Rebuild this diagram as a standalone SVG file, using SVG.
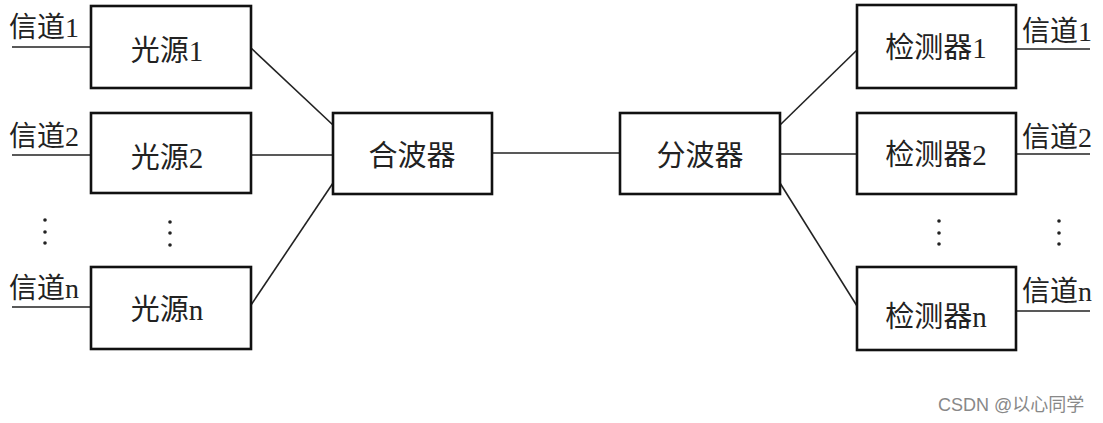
<svg xmlns="http://www.w3.org/2000/svg" width="1103" height="423" viewBox="0 0 1103 423">
<style>
.box{fill:#fff;stroke:#111;stroke-width:2.6}
.ln{stroke:#222;stroke-width:1.6;fill:none}
.t{font-family:"Liberation Serif","Noto Sans CJK SC",serif;font-size:28px;fill:#222}
.b{font-size:29px;text-anchor:middle}
.dot{fill:#222}
.wm{font-family:"Liberation Sans","Noto Sans CJK SC",sans-serif;font-size:18px;fill:#888}
</style>
<rect width="1103" height="423" fill="#fff"/>
<g id="connectors">
<line class="ln" x1="12" y1="47" x2="91" y2="47"/>
<line class="ln" x1="12" y1="155" x2="91" y2="155"/>
<line class="ln" x1="12" y1="307" x2="91" y2="307"/>
<line class="ln" x1="251" y1="48" x2="333" y2="125"/>
<line class="ln" x1="251" y1="155" x2="333" y2="155"/>
<line class="ln" x1="251" y1="305" x2="333" y2="183"/>
<line class="ln" x1="492" y1="153" x2="620" y2="153"/>
<line class="ln" x1="780" y1="125" x2="857" y2="50"/>
<line class="ln" x1="780" y1="154" x2="857" y2="154"/>
<line class="ln" x1="780" y1="183" x2="857" y2="306"/>
<line class="ln" x1="1016" y1="49" x2="1090" y2="49"/>
<line class="ln" x1="1016" y1="154" x2="1090" y2="154"/>
<line class="ln" x1="1016" y1="311" x2="1090" y2="311"/>
</g>
<g id="labels-left">
<text class="t" x="9" y="37">信道1</text>
<text class="t" x="9" y="146">信道2</text>
<text class="t" x="9" y="298">信道n</text>
</g>
<g id="src1"><rect class="box" x="91" y="6" width="160" height="82"/><text class="t b" x="167" y="61">光源1</text></g>
<g id="src2"><rect class="box" x="91" y="113" width="160" height="80"/><text class="t b" x="167" y="168">光源2</text></g>
<g id="srcn"><rect class="box" x="91" y="267" width="160" height="82"/><text class="t b" x="167" y="320">光源n</text></g>
<g id="dots-left">
<circle class="dot" cx="45" cy="220" r="1.8"/><circle class="dot" cx="45" cy="232" r="1.8"/><circle class="dot" cx="45" cy="243" r="1.8"/>
<circle class="dot" cx="170" cy="222" r="1.8"/><circle class="dot" cx="170" cy="233" r="1.8"/><circle class="dot" cx="170" cy="245" r="1.8"/>
</g>
<g id="mux"><rect class="box" x="333" y="113" width="159" height="81"/><text class="t b" x="412" y="166">合波器</text></g>
<g id="demux"><rect class="box" x="620" y="113" width="160" height="81"/><text class="t b" x="700" y="166">分波器</text></g>
<g id="det1"><rect class="box" x="857" y="5" width="159" height="83"/><text class="t b" x="936" y="58">检测器1</text></g>
<g id="det2"><rect class="box" x="857" y="113" width="159" height="81"/><text class="t b" x="936" y="165">检测器2</text></g>
<g id="detn"><rect class="box" x="857" y="267" width="159" height="83"/><text class="t b" x="936" y="327">检测器n</text></g>
<g id="dots-right">
<circle class="dot" cx="939" cy="221" r="1.8"/><circle class="dot" cx="939" cy="233" r="1.8"/><circle class="dot" cx="939" cy="244" r="1.8"/>
<circle class="dot" cx="1059" cy="221" r="1.8"/><circle class="dot" cx="1059" cy="233" r="1.8"/><circle class="dot" cx="1059" cy="244" r="1.8"/>
</g>
<g id="labels-right">
<text class="t" x="1022" y="41">信道1</text>
<text class="t" x="1022" y="147">信道2</text>
<text class="t" x="1022" y="301">信道n</text>
</g>
<text class="wm" x="938" y="411">CSDN @以心同学</text>
</svg>
